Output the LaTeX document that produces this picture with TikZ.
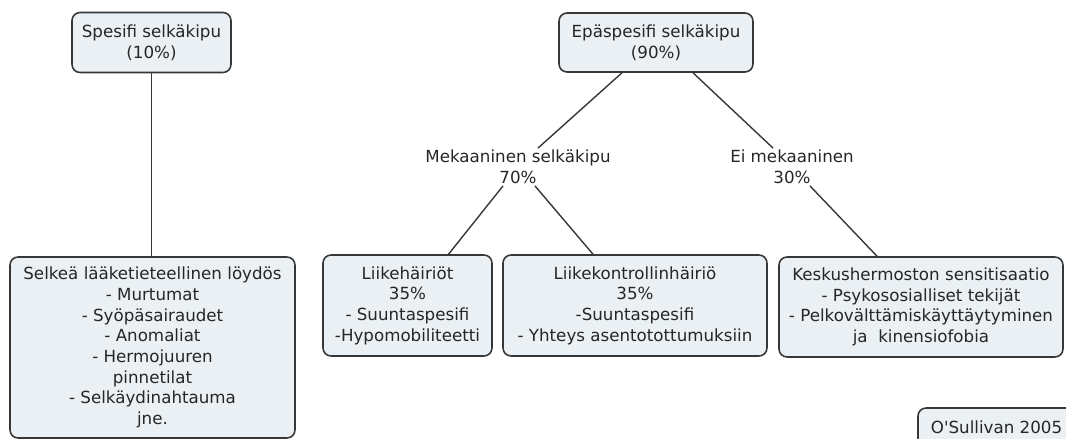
\documentclass[tikz,border=0pt]{standalone}
\usepackage{fontspec}
\setmainfont{DejaVu Sans}
\usetikzlibrary{calc}
\definecolor{laatikkovari}{RGB}{234,240,243}
\definecolor{reunavari}{RGB}{55,55,55}

\begin{document}
\begin{tikzpicture}[x=0.02cm,y=-0.02cm,
		laatikko/.style={draw=reunavari,line width=0.9pt,fill=laatikkovari,rounded corners=0.16cm,align=center,inner sep=0pt,font=\fontsize{9.5}{11.8}\selectfont,text=black!85},
		teksti/.style={align=center,inner sep=1pt,font=\fontsize{9.5}{11.8}\selectfont,text=black!85},
		viiva/.style={draw=reunavari,line width=0.8pt}]
				\useasboundingbox (0,0) rectangle (1066,439);
				\node[laatikko,minimum width=3.18cm,minimum height=1.2cm] (spes) at (151.5,42.5) {Spesifi selkäkipu\\(10\%)};
				\node[laatikko,minimum width=3.88cm,minimum height=1.18cm] (epa) at (656,42.5) {Epäspesifi selkäkipu\\(90\%)};
				\node[laatikko,minimum width=5.7cm,minimum height=3.62cm] (selkea) at (152.5,347.5) {Selkeä lääketieteellinen löydös\\- Murtumat\\- Syöpäsairaudet\\- Anomaliat\\- Hermojuuren\\pinnetilat\\- Selkäydinahtauma\\jne.};
				\node[teksti] (mek) at (518,167) {Mekaaninen selkäkipu\\70\%};
				\node[teksti] (ei) at (792,167) {Ei mekaaninen\\30\%};
				\node[laatikko,minimum width=3.38cm,minimum height=2.02cm] (lh) at (407.5,305.5) {Liikehäiriöt\\35\%\\- Suuntaspesifi\\-Hypomobiliteetti};
				\node[laatikko,minimum width=5.28cm,minimum height=2.02cm] (lk) at (635,305.5) {Liikekontrollinhäiriö\\35\%\\-Suuntaspesifi\\- Yhteys asentotottumuksiin};
				\node[laatikko,minimum width=5.68cm,minimum height=2cm] (kesk) at (921,307) {Keskushermoston sensitisaatio\\- Psykososialliset tekijät\\- Pelkovälttämiskäyttäytyminen\\ja\ \ kinensiofobia};
				\node[laatikko,minimum width=3.14cm,minimum height=0.76cm] (osul) at (996.5,427) {O\textquotesingle Sullivan 2005};
				\draw[viiva] (spes.south) -- (spes.south |- selkea.north);
				\draw[viiva] ($(epa.south)+(-34,0)$) -- ($(mek.north)+(20,0)$);
				\draw[viiva] ($(epa.south)+(37,0)$) -- ($(ei.north)+(-19,0)$);
				\draw[viiva] ($(mek.south)+(-15,0)$) -- ($(lh.north)+(41,0)$);
				\draw[viiva] ($(mek.south)+(17,0)$) -- ($(lk.north)+(-42,0)$);
				\draw[viiva] ($(ei.south)+(18,0)$) -- ($(kesk.north)+(-44,0)$);
			\end{tikzpicture}
\end{document}
